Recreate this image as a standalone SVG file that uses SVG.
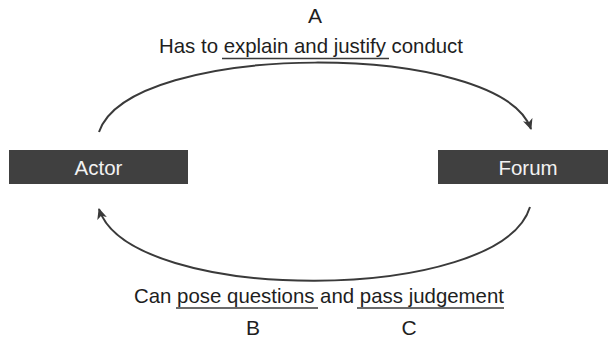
<svg xmlns="http://www.w3.org/2000/svg" width="608" height="338" viewBox="0 0 608 338">
  <defs>
    <style>
      .lbl { font-family: "Liberation Sans", Arial, sans-serif; font-size: 21px; fill: #1e1e1e; }
      .box { fill: #404040; }
      .boxtxt { font-family: "Liberation Sans", Arial, sans-serif; font-size: 20.5px; fill: #f2f2f2; text-anchor: middle; }
      .conn { fill: none; stroke: #3a3a3a; stroke-width: 2; marker-end: url(#arrow); }
      .ul { stroke: #3a3a3a; stroke-width: 1.5; }
    </style>
    <marker id="arrow" markerUnits="userSpaceOnUse" markerWidth="12" markerHeight="12" viewBox="0 0 12 12" refX="10" refY="6" orient="auto">
      <path d="M0,1 L11,6 L0,11 L3,6 Z" fill="#3a3a3a"/>
    </marker>
  </defs>
  <rect width="608" height="338" fill="#ffffff"/>

  <g id="connectors">
    <path class="conn" d="M 99 132 C 130 40, 500 40, 531 129"/>
    <path class="conn" d="M 530 207 C 500 305, 130 305, 99 209"/>
  </g>

  <g id="actor">
    <rect class="box" x="9" y="150" width="179" height="34"/>
    <text class="boxtxt" x="98.5" y="175">Actor</text>
  </g>

  <g id="forum">
    <rect class="box" x="438" y="150" width="170" height="34"/>
    <text class="boxtxt" x="528" y="175">Forum</text>
  </g>

  <g id="top-label">
    <text class="lbl" x="315" y="23" text-anchor="middle">A</text>
    <text class="lbl" x="159" y="53" textLength="304" lengthAdjust="spacingAndGlyphs">Has to explain and justify conduct</text>
    <line class="ul" x1="222" y1="58.5" x2="389" y2="58.5"/>
  </g>

  <g id="bottom-label">
    <text class="lbl" x="134" y="303" textLength="370" lengthAdjust="spacingAndGlyphs">Can pose questions and pass judgement</text>
    <line class="ul" x1="176" y1="308" x2="318" y2="308"/>
    <line class="ul" x1="357" y1="308" x2="504" y2="308"/>
    <text class="lbl" x="253" y="335" text-anchor="middle">B</text>
    <text class="lbl" x="409" y="335" text-anchor="middle">C</text>
  </g>
</svg>
